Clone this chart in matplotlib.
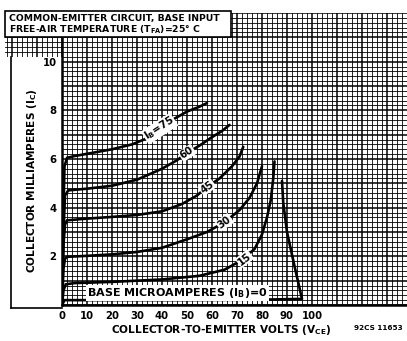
import matplotlib
matplotlib.use("Agg")
import matplotlib.pyplot as plt
from matplotlib.lines import Line2D
from matplotlib.patches import Rectangle
import numpy as np

# ---- data ----
v75 = [0, 0.6, 1.0, 2.0, 5, 12, 20, 28, 34, 39, 44, 50, 55, 58]
i75 = [0, 4.0, 5.7, 6.05, 6.12, 6.25, 6.4, 6.6, 6.85, 7.25, 7.6, 7.95, 8.15, 8.3]
v60 = [0, 0.6, 1.2, 2.5, 10, 20, 30, 40, 46, 50, 55, 60, 64, 67]
i60 = [0, 3.0, 4.5, 4.71, 4.78, 4.9, 5.15, 5.6, 5.95, 6.25, 6.55, 6.9, 7.15, 7.4]
v45 = [0, 0.6, 1.2, 2, 10, 20, 30, 40, 48, 54, 58, 63, 68, 71, 72.5]
i45 = [0, 2.5, 3.3, 3.48, 3.55, 3.62, 3.7, 3.85, 4.15, 4.5, 4.85, 5.2, 5.7, 6.1, 6.5]
v30 = [0, 0.6, 1.2, 2, 10, 20, 30, 40, 50, 58, 65, 71, 75, 78, 80]
i30 = [0, 1.5, 1.9, 1.98, 2.02, 2.08, 2.18, 2.35, 2.7, 3.0, 3.4, 3.9, 4.4, 5.0, 5.7]
v15 = [0, 0.6, 1.5, 5, 20, 40, 55, 65, 72, 77, 80, 82, 83.5, 84.5, 85]
i15 = [0, 0.6, 0.85, 0.9, 0.95, 1.05, 1.2, 1.45, 1.85, 2.3, 2.9, 3.6, 4.3, 5.2, 5.9]
v0 = [0, 1, 20, 50, 80, 96, 93, 90, 88.5, 88]
i0 = [0, 0.2, 0.2, 0.2, 0.22, 0.25, 1.6, 3.0, 4.2, 5.1]

curve_labels = ["I$_\\mathregular{B}$=75", "60", "45", "30", "15"]
label_v = [39, 50, 58, 65, 73]
label_i = [7.25, 6.25, 4.85, 3.4, 1.9]
label_rot = [33, 33, 37, 36, 38]

x_ticks = [0, 10, 20, 30, 40, 50, 60, 70, 80, 90, 100]
y_ticks = [2, 4, 6, 8, 10]

W, H = 407, 341
fig = plt.figure(figsize=(W / 100, H / 100), dpi=100)

def fx(px):
    return px / W

def fy(py):
    return 1 - py / H

# main axes: px x 62..407, y 13..305
ax = fig.add_axes([fx(62), fy(305), fx(407) - fx(62), fy(13) - fy(305)])
ax.set_xlim(0, 138)
ax.set_ylim(0, 12)

def paper(a, xmin, xmax, ymin, ymax):
    for xv in np.arange(np.ceil(xmin / 2) * 2, xmax + 0.01, 2):
        major = abs(xv / 10 - round(xv / 10)) < 1e-6
        a.axvline(xv, color="black", lw=1.1 if major else 0.6, zorder=0.5)
    for yv in np.arange(np.ceil(ymin / 0.2) * 0.2, ymax + 0.01, 0.2):
        major = abs(yv - round(yv)) < 1e-6
        a.axhline(yv, color="black", lw=1.1 if major else 0.6, zorder=0.5)

paper(ax, 0, 138, 0, 12)

for v, i in [(v75, i75), (v60, i60), (v45, i45), (v30, i30), (v15, i15), (v0, i0)]:
    ax.plot(v, i, color="black", lw=1.9, zorder=3, solid_capstyle="round")

for s, v, i, r in zip(curve_labels, label_v, label_i, label_rot):
    ax.text(v, i, s, rotation=r, ha="center", va="center", fontsize=7.3,
            fontweight="bold", zorder=4, rotation_mode="anchor",
            bbox=dict(facecolor="white", edgecolor="none", pad=0.6))

ax.text(10, 0.5, "BASE MICROAMPERES (I$_\\mathregular{B}$)=0", ha="left",
        va="center", fontsize=8, fontweight="bold", zorder=4,
        bbox=dict(facecolor="white", edgecolor="none", pad=0.8))

ax.set_xticks(x_ticks)
ax.set_yticks(y_ticks)
ax.tick_params(length=0, labelsize=7.3, pad=4)
for t in ax.get_xticklabels() + ax.get_yticklabels():
    t.set_fontweight("bold")
for sp in ["top", "right"]:
    ax.spines[sp].set_visible(False)
ax.spines["left"].set_linewidth(1.8)
ax.spines["bottom"].set_linewidth(1.8)

ax.set_xlabel("COLLECTOR-TO-EMITTER VOLTS (V$_\\mathregular{CE}$)", fontsize=7.6,
              fontweight="bold")
ax.xaxis.set_label_coords((221 - 62) / 345, -(330 - 305) / 292)
ax.xaxis.label.set_va("center")
ax.set_ylabel("COLLECTOR MILLIAMPERES (I$_\\mathregular{C}$)", fontsize=7.6,
              fontweight="bold")
ax.yaxis.set_label_coords((32 - 62) / 345, (305 - 181) / 292)
ax.yaxis.label.set_va("center")

# strip of graph paper above the y-label area
ax2 = fig.add_axes([fx(5), fy(57), fx(62) - fx(5), fy(13) - fy(57)])
ax2.set_xlim((5 - 62) / 2.5, 0)
ax2.set_ylim((305 - 57) / 24.33, 12)
paper(ax2, (5 - 62) / 2.5, 0, (305 - 57) / 24.33, 12)
ax2.axis("off")

# frame round the y-label area
fig.add_artist(Line2D([fx(11), fx(11)], [fy(57), fy(308)], color="black", lw=1.2))
fig.add_artist(Line2D([fx(11), fx(62)], [fy(308), fy(308)], color="black", lw=1.2))

# title box
fig.add_artist(Rectangle((fx(5), fy(37)), fx(231) - fx(5), fy(11) - fy(37),
                         facecolor="white", edgecolor="black", lw=1.2, zorder=5))
fig.text(fx(9), fy(18), "COMMON-EMITTER CIRCUIT, BASE INPUT", fontsize=6.7,
         fontweight="bold", ha="left", va="center", zorder=6)
fig.text(fx(9), fy(30), "FREE-AIR TEMPERATURE (T$_\\mathregular{FA}$)=25\u00b0 C",
         fontsize=6.7, fontweight="bold", ha="left", va="center", zorder=6)

fig.text(fx(378), fy(328), "92CS 11653", fontsize=5.2, fontweight="bold",
         ha="center", va="center")

fig.savefig("out.png", dpi=100)
